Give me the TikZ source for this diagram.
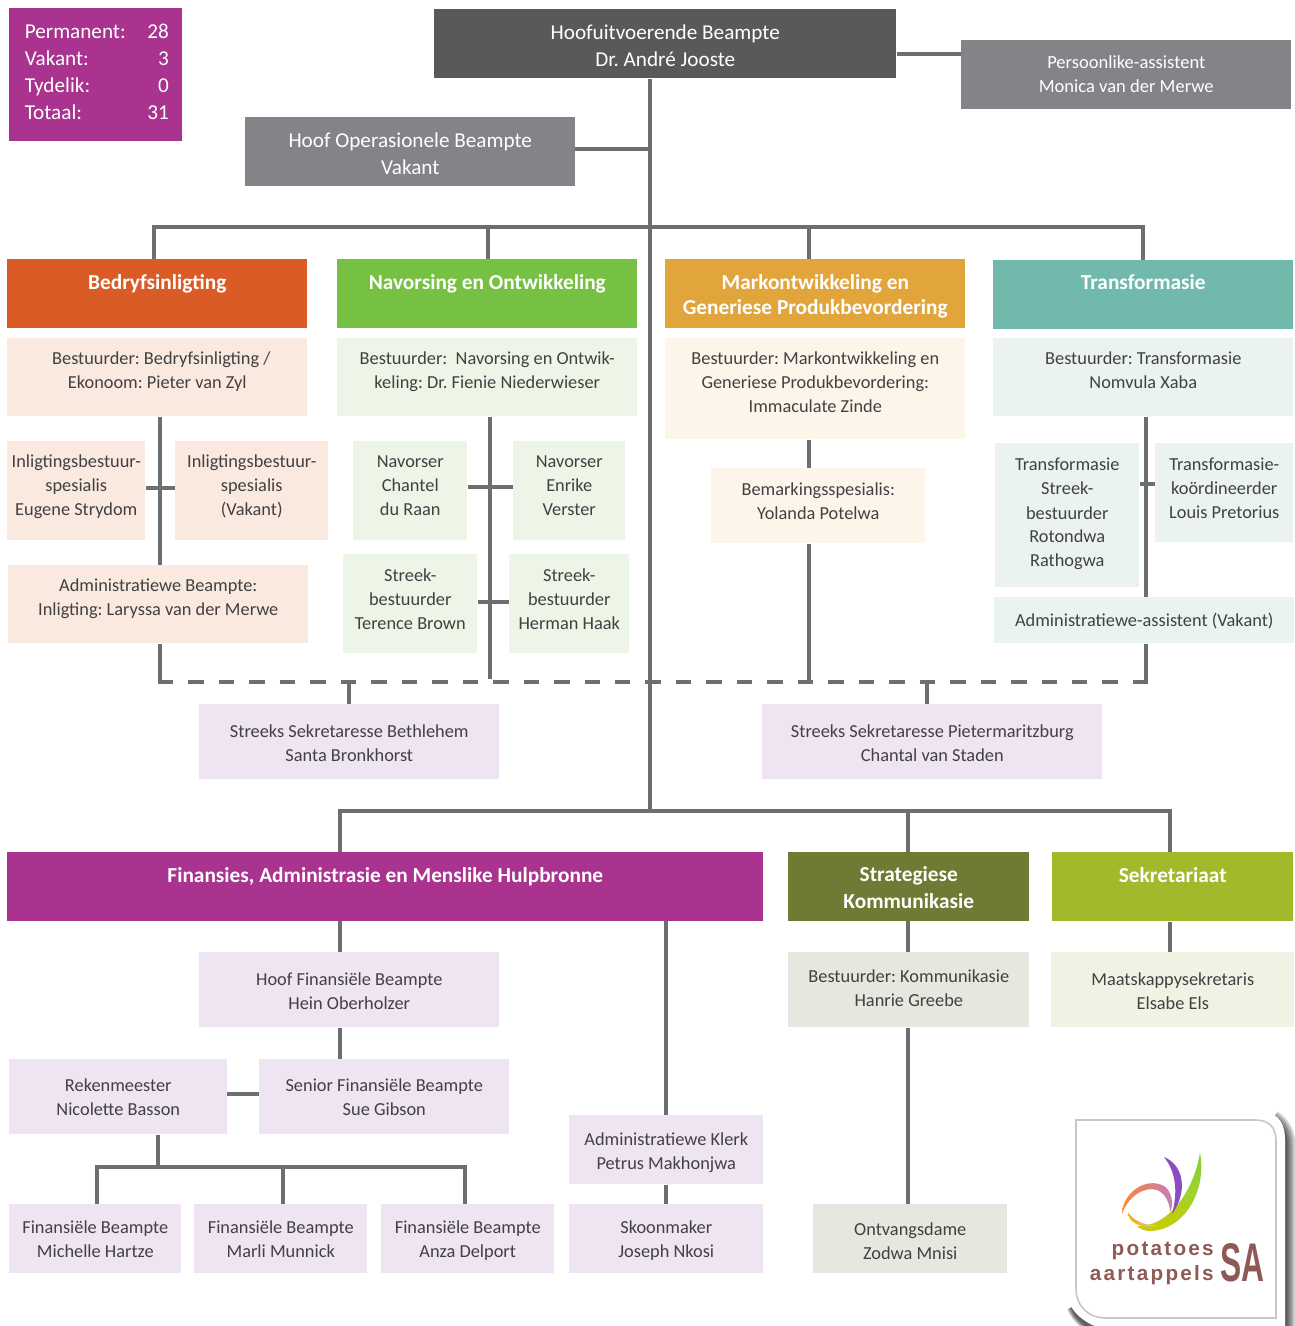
\documentclass[tikz,border=0pt]{standalone}
\usepackage{xcolor}
\usepackage{fontspec}
\setmainfont{Carlito}
\newfontfamily\logofont[LetterSpace=11]{Liberation Sans}
\usetikzlibrary{positioning,calc}

\definecolor{linegrey}{HTML}{6D6E71}
\definecolor{textgrey}{HTML}{414042}
\definecolor{ceogrey}{HTML}{58595B}
\definecolor{midgrey}{HTML}{838487}
\definecolor{magenta}{HTML}{A9338F}
\definecolor{lilac}{HTML}{EFE4F1}
\definecolor{orangehead}{HTML}{D95B26}
\definecolor{orangepale}{HTML}{FAE9DF}
\definecolor{greenhead}{HTML}{76C043}
\definecolor{greenpale}{HTML}{EDF5E6}
\definecolor{amberhead}{HTML}{E2A53B}
\definecolor{amberpale}{HTML}{FDF5EA}
\definecolor{tealhead}{HTML}{70B9AC}
\definecolor{tealpale}{HTML}{EBF3EF}
\definecolor{olivehead}{HTML}{6F7B34}
\definecolor{olivepale}{HTML}{E7E7DF}
\definecolor{limehead}{HTML}{A1B92A}
\definecolor{limepale}{HTML}{EFF3E3}
\definecolor{logobrown}{HTML}{8E5A55}

\tikzset{
	orgbox/.code args={#1 by #2}{%
		\pgfmathsetlengthmacro\boxw{#1*0.75pt}%
		\pgfmathsetlengthmacro\boxh{#2*0.75pt}%
		\tikzset{minimum width=\boxw,minimum height=\boxh,text width=\boxw}},
	lift/.style={execute at end node={\par\vspace{#1}}},
	pale/.style={anchor=north west,inner sep=0pt,align=flush center,text=textgrey,font=\frenchspacing\fontsize{13.75}{18}\selectfont},
	lead/.style={anchor=north west,inner sep=0pt,align=flush center,text=white,font=\frenchspacing\fontsize{15.9}{20.25}\selectfont},
	head/.style={anchor=north west,inner sep=0pt,align=flush center,text=white,font=\frenchspacing\bfseries\fontsize{16}{18.75}\selectfont},
	conn/.style={draw=linegrey,line width=3pt},
}

\begin{document}
\begin{tikzpicture}[x=0.75pt,y=-0.75pt]
\useasboundingbox (0,0) rectangle (1294,1326);

% top of the chart
\node[lead,fill=magenta,orgbox=173 by 133,lift=2pt] (stats) at (9,8) {%
	\hspace*{1.5pt}\begin{tabular*}{108pt}{@{}l@{\extracolsep{\fill}}r@{}}
	Permanent: & 28\\
	Vakant: & 3\\
	Tydelik: & 0\\
	Totaal: & 31\\
	\end{tabular*}};
\node[lead,fill=ceogrey,orgbox=462 by 69,lift=-2.25pt] (ceo) at (434,9) {Hoofuitvoerende Beampte\\Dr. André Jooste};
\node[lead,fill=midgrey,orgbox=330 by 69,lift=1.5pt,font=\frenchspacing\fontsize{13.9}{18}\selectfont] (assistant) at (961,40) {Persoonlike-assistent\\Monica van der Merwe};
\node[lead,fill=midgrey,orgbox=330 by 69,lift=-2.25pt] (coo) at (245,117) {Hoof Operasionele Beampte\\Vakant};

% departments
\node[head,fill=orangehead,orgbox=300 by 69,lift=15pt] (bedryf) at (7,259) {Bedryfsinligting};
\node[head,fill=greenhead,orgbox=300 by 69,lift=15pt] (navorsing) at (337,259) {Navorsing en Ontwikkeling};
\node[head,fill=amberhead,orgbox=300 by 69,lift=-3.75pt] (mark) at (665,259) {Markontwikkeling en\\Generiese Produkbevordering};
\node[head,fill=tealhead,orgbox=300 by 69,lift=19.5pt] (trans) at (993,260) {Transformasie};

\node[pale,fill=orangepale,orgbox=300 by 78,lift=9pt] (bedryfHead) at (7,338) {\hspace*{6pt}Bestuurder: Bedryfsinligting /\\Ekonoom: Pieter van Zyl};
\node[pale,fill=orangepale,orgbox=138 by 99,lift=6pt] (inlig1) at (7,441) {Inligtingsbestuur-\\spesialis\\Eugene Strydom};
\node[pale,fill=orangepale,orgbox=153 by 99,lift=6pt] (inlig2) at (175,441) {Inligtingsbestuur-\\spesialis\\(Vakant)};
\node[pale,fill=orangepale,orgbox=300 by 78,lift=9pt] (bedryfAdmin) at (8,565) {Administratiewe Beampte:\\Inligting: Laryssa van der Merwe};

\node[pale,fill=greenpale,orgbox=300 by 78,lift=9pt] (navHead) at (337,338) {Bestuurder:\ \ Navorsing en Ontwik-\\keling: Dr. Fienie Niederwieser};
\node[pale,fill=greenpale,orgbox=114 by 99,lift=7.5pt] (chantel) at (353,441) {Navorser\\Chantel\\du Raan};
\node[pale,fill=greenpale,orgbox=112 by 99,lift=7.5pt] (enrike) at (513,441) {Navorser\\Enrike\\Verster};
\node[pale,fill=greenpale,orgbox=134 by 99,lift=6.75pt] (terence) at (343,554) {Streek-\\bestuurder\\Terence Brown};
\node[pale,fill=greenpale,orgbox=120 by 99,lift=6.75pt] (herman) at (509,554) {Streek-\\bestuurder\\Herman Haak};

\node[pale,fill=amberpale,orgbox=300 by 101,lift=9.75pt] (markHead) at (665,338) {Bestuurder: Markontwikkeling en\\Generiese Produkbevordering:\\Immaculate Zinde};
\node[pale,fill=amberpale,orgbox=214 by 75,lift=6.75pt] (yolanda) at (711,468) {Bemarkingsspesialis:\\Yolanda Potelwa};

\node[pale,fill=tealpale,orgbox=300 by 78,lift=10.5pt] (transHead) at (993,338) {Bestuurder: Transformasie\\Nomvula Xaba};
\node[pale,fill=tealpale,orgbox=144 by 144,lift=1.5pt] (rotondwa) at (995,443) {Transformasie\\Streek-\\bestuurder\\Rotondwa\\Rathogwa};
\node[pale,fill=tealpale,orgbox=138 by 99,lift=6.75pt] (louis) at (1155,443) {Transformasie-\\koördineerder\\Louis Pretorius};
\node[pale,fill=tealpale,orgbox=300 by 46,lift=-4.5pt] (transAdmin) at (994,597) {Administratiewe-assistent (Vakant)};

\node[pale,fill=lilac,orgbox=300 by 75,lift=-1.5pt] (bethlehem) at (199,704) {Streeks Sekretaresse Bethlehem\\Santa Bronkhorst};
\node[pale,fill=lilac,orgbox=340 by 75,lift=-1.5pt] (pmb) at (762,704) {Streeks Sekretaresse Pietermaritzburg\\Chantal van Staden};

% lower departments
\node[head,fill=magenta,orgbox=756 by 69,lift=15.75pt] (fin) at (7,852) {Finansies, Administrasie en Menslike Hulpbronne};
\node[head,fill=olivehead,orgbox=241 by 69,lift=-0.75pt,font=\frenchspacing\bfseries\fontsize{16}{20.25}\selectfont] (strat) at (788,852) {Strategiese\\Kommunikasie};
\node[head,fill=limehead,orgbox=241 by 69,lift=18pt] (sekr) at (1052,852) {Sekretariaat};

\node[pale,fill=lilac,orgbox=300 by 75,lift=-1.5pt] (cfo) at (199,952) {Hoof Finansiële Beampte\\Hein Oberholzer};
\node[pale,fill=lilac,orgbox=218 by 75] (rekenmeester) at (9,1059) {Rekenmeester\\Nicolette Basson};
\node[pale,fill=lilac,orgbox=250 by 75] (senior) at (259,1059) {Senior Finansiële Beampte\\Sue Gibson};
\node[pale,fill=lilac,orgbox=172 by 69] (michelle) at (9,1204) {Finansiële Beampte\\Michelle Hartze};
\node[pale,fill=lilac,orgbox=173 by 69] (marli) at (194,1204) {Finansiële Beampte\\Marli Munnick};
\node[pale,fill=lilac,orgbox=173 by 69,lift=-3pt] (anza) at (381,1204) {Finansiële Beampte\\Anza Delport};
\node[pale,fill=lilac,orgbox=194 by 69,lift=-4.5pt] (klerk) at (569,1115) {Administratiewe Klerk\\Petrus Makhonjwa};
\node[pale,fill=lilac,orgbox=194 by 69,lift=-3pt] (skoon) at (569,1204) {Skoonmaker\\Joseph Nkosi};

\node[pale,fill=olivepale,orgbox=241 by 75,lift=3pt] (komm) at (788,952) {Bestuurder: Kommunikasie\\Hanrie Greebe};
\node[pale,fill=olivepale,orgbox=194 by 69,lift=-3pt] (ontvang) at (813,1204) {Ontvangsdame\\Zodwa Mnisi};
\node[pale,fill=limepale,orgbox=243 by 75,lift=-1.5pt] (sekretaris) at (1051,952) {Maatskappysekretaris\\Elsabe Els};

% connectors
\coordinate (trunk) at (650,811);
\coordinate (paLine) at (961,54);
\coordinate (cooLine) at (575,149);
\coordinate (busLeft) at (154,227);
\coordinate (busRight) at (1143,227);
\coordinate (lowLeft) at (340,811);
\coordinate (lowRight) at (1170,811);
\draw[conn] (trunk |- ceo.south) -- (trunk);
\draw[conn] (paLine) -- (paLine -| ceo.east);
\draw[conn] (cooLine) -- (cooLine -| trunk);
\draw[conn] (busLeft |- bedryf.north) -- (busLeft) -- (busRight) -- (busRight |- trans.north);
\draw[conn] (lowLeft |- fin.north) -- (lowLeft) -- (lowRight) -- (lowRight |- sekr.north);
\foreach \x/\to in {488/navorsing,809/mark}{
	\coordinate (drop) at (\x,227);
	\draw[conn] (drop) -- (drop |- \to.north);
}
\coordinate (drop) at (908,811);
\draw[conn] (drop) -- (drop |- strat.north);

% dashed line and what hangs on it
\coordinate (dashLeft) at (158,682);
\coordinate (dashRight) at (1148,682);
\coordinate (colA) at (160,684);
\coordinate (colB) at (490,679);
\coordinate (colC) at (809,682);
\coordinate (colD) at (1146,684);
\draw[conn,dash pattern=on 11.6pt off 11.25pt] (dashLeft) -- (dashRight);
\draw[conn] (colA |- bedryfHead.south) -- (colA |- bedryfAdmin.north);
\draw[conn] (colA |- bedryfAdmin.south) -- (colA);
\draw[conn] (colB |- navHead.south) -- (colB);
\draw[conn] (colC |- markHead.south) -- (colC |- yolanda.north);
\draw[conn] (colC |- yolanda.south) -- (colC);
\draw[conn] (colD |- transHead.south) -- (colD |- transAdmin.north);
\draw[conn] (colD |- transAdmin.south) -- (colD);
\coordinate (secA) at (349,682);
\coordinate (secB) at (927,682);
\draw[conn] (secA) -- (secA |- bethlehem.north);
\draw[conn] (secB) -- (secB |- pmb.north);
\coordinate (rowA) at (160,488);
\coordinate (rowB) at (490,487);
\coordinate (rowC) at (490,602);
\coordinate (rowD) at (1146,484);
\draw[conn] (rowA -| inlig1.east) -- (rowA -| inlig2.west);
\draw[conn] (rowB -| chantel.east) -- (rowB -| enrike.west);
\draw[conn] (rowC -| terence.east) -- (rowC -| herman.west);
\draw[conn] (rowD -| rotondwa.east) -- (rowD -| louis.west);

% lower connectors
\coordinate (colE) at (340,921);
\coordinate (colF) at (666,921);
\coordinate (colG) at (908,921);
\coordinate (rekLine) at (227,1094);
\coordinate (finBus) at (158,1167);
\coordinate (finLeft) at (97,1167);
\coordinate (finMid) at (283,1167);
\coordinate (finRight) at (465,1167);
\draw[conn] (colE) -- (colE |- cfo.north);
\draw[conn] (colE |- cfo.south) -- (colE |- senior.north);
\draw[conn] (colF) -- (colF |- klerk.north);
\draw[conn] (colF |- klerk.south) -- (colF |- skoon.north);
\draw[conn] (colG) -- (colG |- komm.north);
\draw[conn] (colG |- komm.south) -- (colG |- ontvang.north);
\draw[conn] (lowRight |- sekr.south) -- (lowRight |- sekretaris.north);
\draw[conn] (rekLine) -- (rekLine -| senior.west);
\draw[conn] (finBus |- rekenmeester.south) -- (finBus);
\draw[conn] (finLeft |- michelle.north) -- (finLeft) -- (finRight) -- (finRight |- anza.north);
\draw[conn] (finMid) -- (finMid |- marli.north);

% logo card
\foreach \w/\v in {14/8,11/6.5,8/5,5/3.5,2.5/2}{
	\draw[black,opacity=.18,line width=\w pt]
		(1272,1119) .. controls (1282,1126) and (1286,1134) .. (1286,1146) -- (1286,1340);
	\draw[black,opacity=.18,line width=\v pt]
		(1072,1307) .. controls (1077,1319) and (1088,1328) .. (1104,1333);
}
\fill[white] (1067,1110) -- (1255,1110) .. controls (1275,1110) and (1285,1120) .. (1285,1140) -- (1285,1335) -- (1100,1335) -- (1100,1328) .. controls (1078,1320) and (1067,1307) .. (1067,1290) -- cycle;
\draw[black!22,line width=1.2pt] (1076,1120) -- (1255,1120) .. controls (1269,1120) and (1276,1127) .. (1276,1141) -- (1276,1318) -- (1106,1318) .. controls (1088,1318) and (1076,1306) .. (1076,1288) -- cycle;

% logo swooshes
\path[top color=greenhead!80!lime,bottom color=yellow!60!olive,middle color=greenhead!70!yellow]
	(1200,1153) .. controls (1207,1190) and (1185,1230) .. (1150,1231)
	.. controls (1145,1231) and (1140,1229) .. (1137,1226)
	.. controls (1165,1228) and (1193,1195) .. (1200,1153) -- cycle;
\fill[violet!70!blue!70!white]
	(1164,1157) .. controls (1184,1165) and (1188,1192) .. (1172,1214)
	.. controls (1178,1192) and (1176,1172) .. (1164,1157) -- cycle;
\path[left color=orange!80!red!80!white,right color=violet!50]
	(1122,1214) .. controls (1122,1194) and (1145,1176) .. (1164,1186)
	.. controls (1172,1191) and (1174,1205) .. (1170,1212)
	.. controls (1170,1203) and (1165,1193) .. (1157,1190)
	.. controls (1145,1186) and (1128,1196) .. (1122,1214) -- cycle;
\path[left color=orange!70!yellow,right color=black!20]
	(1128,1212) .. controls (1128,1224) and (1145,1230) .. (1158,1225)
	.. controls (1146,1226) and (1133,1221) .. (1128,1212) -- cycle;

% logo wording
\node[anchor=east,inner sep=0pt,text=logobrown,font=\logofont\bfseries\fontsize{15.5}{15.5}\selectfont] (logoTop) at (1214,1251) {potatoes};
\node[anchor=east,inner sep=0pt,text=logobrown,font=\logofont\bfseries\fontsize{15.5}{15.5}\selectfont] (logoBottom) at (1214,1275) {aartappels};
\node[anchor=west,inner sep=0pt,text=logobrown,font=\fontspec{Liberation Sans}\bfseries\fontsize{34}{34}\selectfont] (logoSA) at (1220,1263) {\scalebox{0.7}[1.2]{SA}};
\end{tikzpicture}
\end{document}
